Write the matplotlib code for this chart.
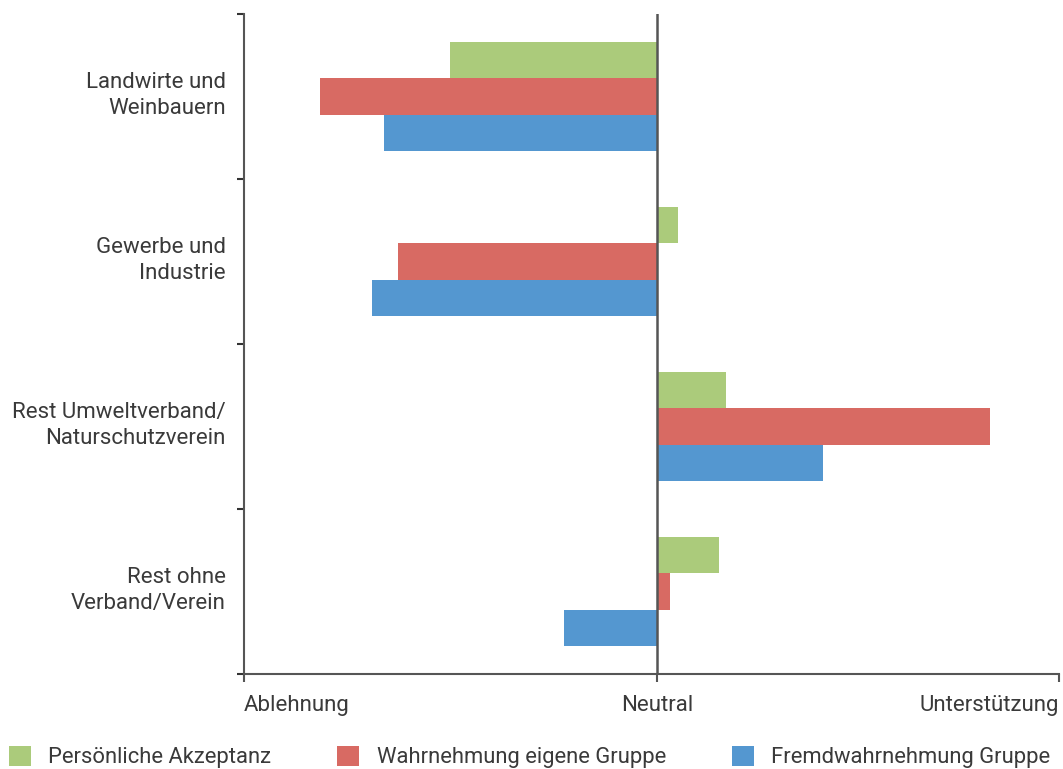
import matplotlib.pyplot as plt
from matplotlib.patches import Patch
from matplotlib.transforms import ScaledTranslation
import numpy as np

plt.rcParams['font.family'] = ['Roboto', 'DejaVu Sans']

# categories top to bottom
categories = ['Landwirte und\nWeinbauern', 'Gewerbe und\nIndustrie',
              'Rest Umweltverband/\nNaturschutzverein', 'Rest ohne\nVerband/Verein']
akzeptanz = [-0.50, 0.05, 0.167, 0.15]
eigene = [-0.815, -0.627, 0.807, 0.031]
fremd = [-0.662, -0.689, 0.403, -0.224]
series_names = ['Persönliche Akzeptanz', 'Wahrnehmung eigene Gruppe', 'Fremdwahrnehmung Gruppe']
colors = ['#ABCB7B', '#D86A63', '#5497D0']
xlabels = ['Ablehnung', 'Neutral', 'Unterstützung']

txt = '#3a3a3a'
fs = 16

fig = plt.figure(figsize=(10.63, 7.69), dpi=100)
ax = fig.add_axes([0.2295, 0.1235, 0.9962 - 0.2295, 0.9818 - 0.1235])

y = np.arange(len(categories))
h = 0.222
for i, (vals, c) in enumerate(zip([akzeptanz, eigene, fremd], colors)):
    ax.barh(y + (i - 1) * h, vals, height=h, color=c, edgecolor='none')

xmax = 402 / 413
ax.set_xlim(-1, xmax)
ax.set_ylim(3.5, -0.5)
ax.axvline(0, color='#555555', lw=1.8, zorder=3)

for s in ['top', 'right']:
    ax.spines[s].set_visible(False)
for s in ['left', 'bottom']:
    ax.spines[s].set_color('#555555')
    ax.spines[s].set_linewidth(1.5)

ax.set_yticks(y)
ax.set_yticklabels(categories, ha='right', fontsize=fs, color=txt, linespacing=1.3)
ax.set_yticks(np.arange(-0.5, 4, 1), minor=True)
ax.tick_params(axis='y', which='major', length=0, pad=13)
ax.tick_params(axis='y', which='minor', length=5, width=1.5, color='#333333')
up = ScaledTranslation(0, 6 / 100, fig.dpi_scale_trans)
for lab in ax.get_yticklabels():
    lab.set_transform(lab.get_transform() + up)

ax.set_xticks([-1, 0, xmax])
ax.set_xticklabels(xlabels, fontsize=fs, color=txt)
ax.tick_params(axis='x', length=6, width=1.5, color='#555555', pad=9)
labs = ax.get_xticklabels()
labs[0].set_ha('left')
labs[2].set_ha('right')

handles = [Patch(facecolor=c, edgecolor='none') for c in colors]
fig.legend(handles, series_names, loc='lower left', bbox_to_anchor=(-0.006, -0.019), ncol=3,
           frameon=False, fontsize=15.8, handlelength=1.0, handleheight=1.0,
           handletextpad=0.8, columnspacing=3.0, borderaxespad=0.3,
           labelcolor=txt)

fig.savefig('out.png', dpi=100)
